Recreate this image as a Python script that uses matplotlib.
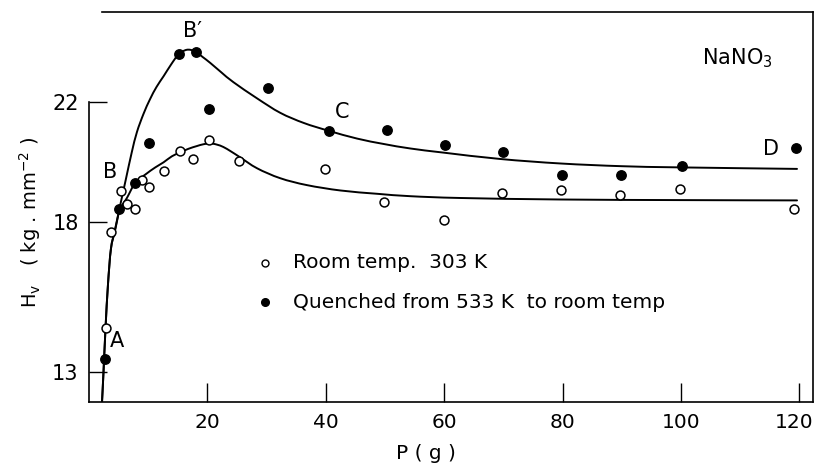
import matplotlib
matplotlib.use("Agg")
import matplotlib.pyplot as plt
from matplotlib.path import Path
from matplotlib.patches import PathPatch
from matplotlib.transforms import ScaledTranslation

plt.rcParams['font.family'] = ['DejaVu Sans']
plt.rcParams['mathtext.fontset'] = 'dejavusans'

# Room temperature 303 K (open circles)
room_P = [2.8, 3.8, 5.4, 6.4, 7.8, 9.0, 10.2, 12.7, 15.4, 17.6, 20.3, 25.3,
          39.9, 49.9, 60.0, 69.7, 79.8, 89.7, 99.8, 119.1]
room_H = [14.47, 17.66, 19.04, 18.60, 18.42, 19.40, 19.18, 19.71, 20.35, 20.10,
          20.73, 20.03, 19.77, 18.66, 18.08, 18.96, 19.05, 18.91, 19.10, 18.44]

# Quenched from 533 K to room temp (filled circles)
quen_P = [2.7, 5.1, 7.8, 10.2, 15.2, 18.0, 20.3, 30.2, 40.5, 50.3, 60.2, 69.9,
          79.9, 89.8, 100.1, 119.5]
quen_H = [13.42, 18.44, 19.29, 20.62, 23.61, 23.67, 21.78, 22.48, 21.04, 21.07,
          20.56, 20.33, 19.57, 19.57, 19.86, 20.48]

# Hand-drawn curves, points
curve_q_P = [2.2, 2.45, 2.8, 3.2, 3.7, 4.4, 5.14, 6.2, 7.22, 8.1, 9.2, 10.3,
             11.4, 12.6, 13.9, 15.1, 16.5, 17.9, 19.2, 20.5, 22.4, 24.4, 28.4,
             32.3, 36.3, 40.5, 45.3, 49.8, 54.3, 60.0, 69.5, 79.7, 90.0, 100.0,
             119.6]
curve_q_H = [12.0, 13.0, 14.5, 15.9, 17.1, 17.75, 18.44, 19.4, 20.32, 21.0,
             21.6, 22.09, 22.50, 22.86, 23.26, 23.58, 23.74, 23.69, 23.50, 23.30,
             22.98, 22.66, 22.12, 21.64, 21.30, 21.04, 20.78, 20.60, 20.45, 20.31,
             20.10, 19.95, 19.86, 19.82, 19.77]

curve_r_P = [2.2, 2.45, 2.8, 3.2, 3.7, 4.4, 5.2, 6.4, 7.8, 9.5, 11.2, 12.6,
             14.0, 15.4, 16.8, 18.2, 19.3, 20.5, 21.6, 22.7, 24.0, 25.5, 28.4,
             32.3, 36.8, 42.5, 48.7, 54.3, 62.8, 79.7, 100.0, 119.6]
curve_r_H = [12.0, 13.0, 14.5, 15.9, 17.1, 17.72, 18.4, 18.8, 19.30, 19.58,
             19.82, 19.99, 20.19, 20.32, 20.44, 20.53, 20.59, 20.62, 20.58, 20.50,
             20.35, 20.16, 19.79, 19.46, 19.23, 19.05, 18.94, 18.86, 18.80, 18.75,
             18.73, 18.72]

x_ticks = [20, 40, 60, 80, 100, 120]
y_ticks = [13, 18, 22]


def smooth_path(xs, ys):
    """Catmull-Rom spline through the read points, as cubic Bezier segments."""
    pts = list(zip(xs, ys))
    n = len(pts)
    verts = [pts[0]]
    codes = [Path.MOVETO]
    for i in range(n - 1):
        p0 = pts[i - 1] if i > 0 else pts[i]
        p1 = pts[i]
        p2 = pts[i + 1]
        p3 = pts[i + 2] if i + 2 < n else pts[i + 1]
        c1 = (p1[0] + (p2[0] - p0[0]) / 6.0, p1[1] + (p2[1] - p0[1]) / 6.0)
        c2 = (p2[0] - (p3[0] - p1[0]) / 6.0, p2[1] - (p3[1] - p1[1]) / 6.0)
        verts += [c1, c2, p2]
        codes += [Path.CURVE4] * 3
    return Path(verts, codes)


W, H = 816, 465
fig = plt.figure(figsize=(W / 100, H / 100), dpi=100)
ax_l, ax_r, ax_t, ax_b = 89, 813, 12, 402
ax = fig.add_axes([ax_l / W, 1 - ax_b / H, (ax_r - ax_l) / W, (ax_b - ax_t) / H])
ax.set_xlim(0, 122.3)
ax.set_ylim(12, 25)

for cx, cy in ((curve_q_P, curve_q_H), (curve_r_P, curve_r_H)):
    ax.add_patch(PathPatch(smooth_path(cx, cy), facecolor='none',
                           edgecolor='black', lw=1.4, capstyle='round',
                           joinstyle='round', zorder=2))

ax.plot(room_P, room_H, linestyle='none', marker='o', ms=6.4, mfc='white',
        mec='black', mew=1.1, zorder=3)
ax.plot(quen_P, quen_H, linestyle='none', marker='o', ms=6.8, mfc='black',
        mec='black', zorder=4)

for s in ax.spines.values():
    s.set_linewidth(1.2)
ax.spines['left'].set_bounds(12, 22)
ax.spines['top'].set_bounds(2.2, 122.3)

ax.set_xticks(x_ticks)
ax.set_yticks(y_ticks)
ax.tick_params(axis='x', direction='in', length=14, width=1.0, pad=8, labelsize=14.5)
ax.tick_params(axis='y', direction='in', length=13, width=1.0, pad=7.5, labelsize=15)

# keep the last x tick label inside the figure edge
last = ax.xaxis.get_major_ticks()[-1].label1
last.set_transform(last.get_transform() + ScaledTranslation(-4 / 72, 0, fig.dpi_scale_trans))

# axis titles
fig.text(426 / W, 1 - 459 / H, 'P ( g )', fontsize=14.5, ha='center', va='baseline')
fig.text(30 / W, 1 - 222 / H, r'H$_\mathrm{v}$   ( kg . mm$^{-2}$ )', fontsize=14,
         rotation=90, ha='center', va='center')

ax.text(4.7, 14.03, 'A', fontsize=15, ha='center', va='center')
ax.text(3.55, 19.66, 'B', fontsize=15, ha='center', va='center')
ax.text(17.4, 24.36, "B\u2032", fontsize=15, ha='center', va='center')
ax.text(42.7, 21.65, 'C', fontsize=15, ha='center', va='center')
ax.text(115.2, 20.43, 'D', fontsize=15, ha='center', va='center')
ax.text(109.6, 23.47, r'NaNO$_3$', fontsize=15, ha='center', va='center')


# legend (manual)
def fx(px):
    return (px - ax_l) / (ax_r - ax_l)


def fy(py):
    return (ax_b - py) / (ax_b - ax_t)


ax.plot([fx(265)], [fy(263)], transform=ax.transAxes, marker='o', ms=5,
        mfc='white', mec='black', mew=1.0, clip_on=False)
ax.plot([fx(265)], [fy(302)], transform=ax.transAxes, marker='o', ms=5.5,
        mfc='black', mec='black', clip_on=False)
ax.text(fx(293), fy(263), 'Room temp.  303 K', transform=ax.transAxes,
        fontsize=14.5, ha='left', va='center')
ax.text(fx(293), fy(302), 'Quenched from 533 K  to room temp',
        transform=ax.transAxes, fontsize=14.5, ha='left', va='center')

fig.savefig('out.png', dpi=100)
